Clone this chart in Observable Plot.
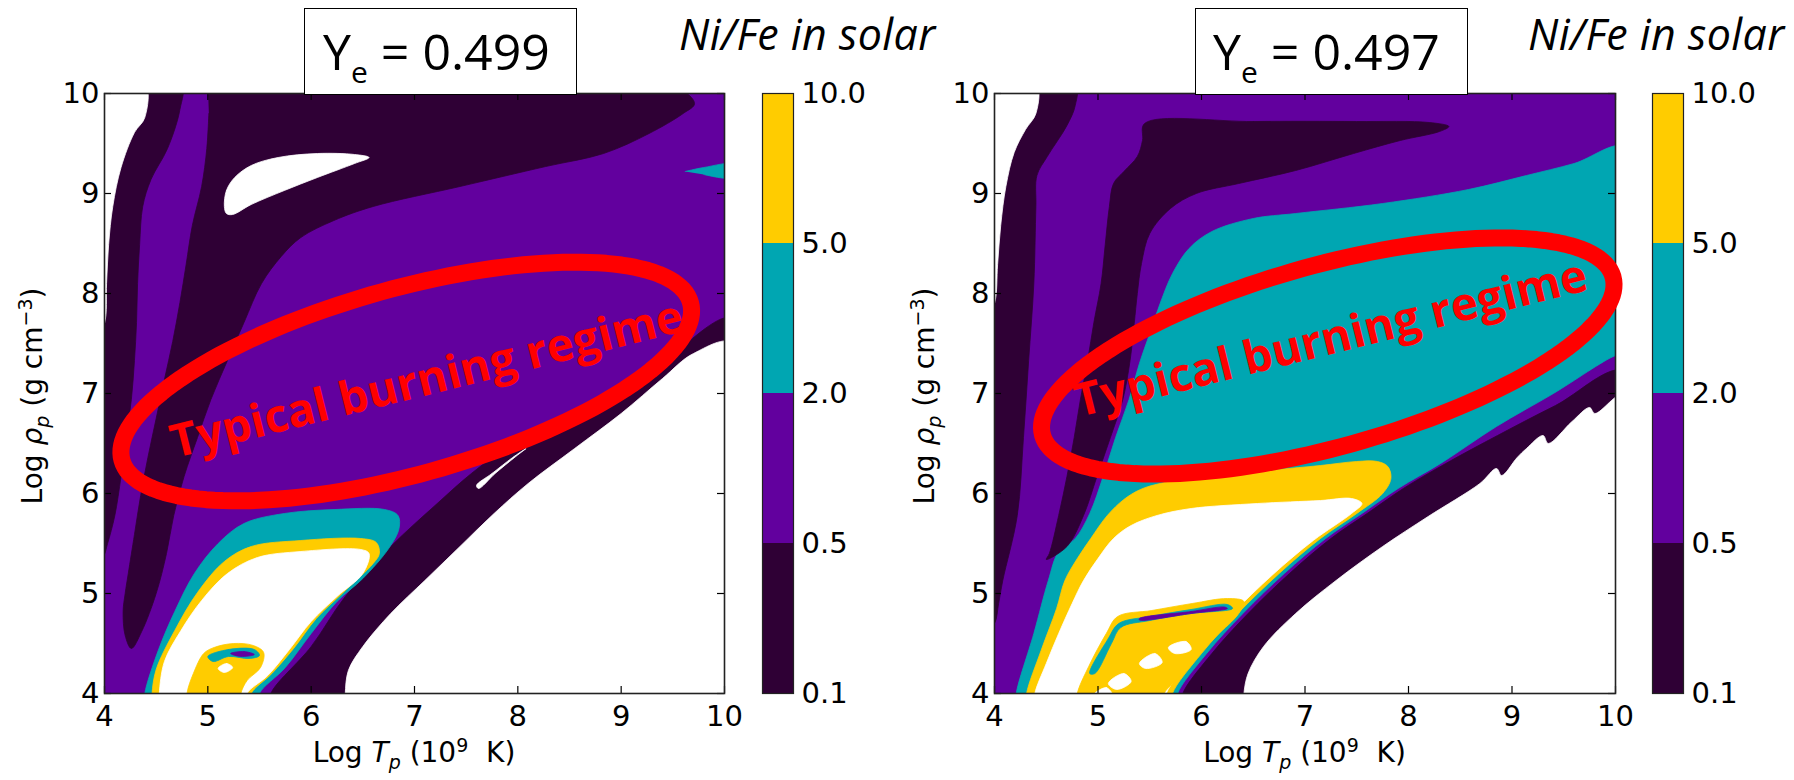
<!DOCTYPE html>
<html><head><meta charset="utf-8">
<script src="https://cdn.jsdelivr.net/npm/d3@7"></script>
<script src="https://cdn.jsdelivr.net/npm/@observablehq/plot@0.6"></script>
<style>
body{margin:0;background:#fff;}
#root{position:relative;width:1794px;height:780px;overflow:hidden;font-family:"DejaVu Sans";}
.abs{position:absolute;white-space:nowrap;line-height:1;}
.box{position:absolute;border:1.5px solid #000;background:#fff;box-sizing:border-box;z-index:5;}
.ye{font-family:"Open Sans";font-size:50px;z-index:6;color:#000;}
.ye sub{font-size:30px;vertical-align:-13px;line-height:0;}
.nife{font-family:"Open Sans";font-style:italic;font-size:43px;letter-spacing:0.4px;color:#000;}
.axl{font-family:"DejaVu Sans";font-size:28px;color:#000;}
.axl sub,.axl sup{font-size:19px;line-height:0;}
svg{overflow:visible;}
</style></head><body><div id="root"></div>
<script>
// ---------- axis / legend data ----------
const T_TICKS = [4, 5, 6, 7, 8, 9, 10];
const RHO_TICKS = [4, 5, 6, 7, 8, 9, 10];
const LEVELS = ["0.1", "0.5", "2.0", "5.0", "10.0"];
const BANDS = ["dark", "purple", "teal", "yellow"];
const TITLES = ["0.499", "0.497"];

// ---------- left panel (Ye = 0.499) regions, [log T, log rho] ----------
const L_DARK_MAIN = [[5.0,10.1],[9.45,10.1],[9.71,9.9],[9.6,9.8],[9.27,9.6],[8.83,9.4],[8.27,9.27],[7.44,9.07],[6.6,8.87],[6.22,8.73],[5.9,8.56],[5.71,8.37],[5.52,8.1],[5.35,7.71],[5.19,7.33],[5.03,6.94],[4.9,6.56],[4.77,6.17],[4.67,5.78],[4.6,5.4],[4.5,5.0],[4.36,4.62],[4.26,4.45],[4.2,4.58],[4.18,4.82],[4.2,5.0],[4.23,5.2],[4.29,5.59],[4.35,5.98],[4.42,6.36],[4.5,6.75],[4.58,7.14],[4.66,7.52],[4.73,7.91],[4.79,8.29],[4.85,8.68],[4.94,9.07],[4.99,9.45],[5.01,9.8]];
const L_DARK_LEFT = [[3.9,10.1],[4.74,10.1],[4.73,9.84],[4.61,9.45],[4.45,9.14],[4.37,8.87],[4.34,8.49],[4.32,8.1],[4.31,7.71],[4.29,7.33],[4.26,6.94],[4.21,6.56],[4.16,6.17],[4.1,5.78],[4.03,5.5],[3.98,5.35],[3.9,5.3]];
const L_WHITE_CORNER = [[3.9,10.1],[4.39,10.1],[4.39,9.76],[4.29,9.61],[4.16,9.26],[4.08,8.87],[4.04,8.49],[4.02,8.1],[4.0,7.7],[3.9,7.5]];
const L_CRESCENT = [[5.16,8.87],[5.18,9.03],[5.26,9.16],[5.42,9.28],[5.68,9.36],[6.06,9.4],[6.42,9.39],[6.56,9.36],[6.42,9.3],[6.06,9.16],[5.74,9.03],[5.42,8.89],[5.24,8.79],[5.18,8.8]];
const L_TEAL_SPOT = [[9.62,9.22],[9.8,9.26],[10.1,9.29],[10.1,9.16],[9.8,9.19]];
const L_DARK_BAND = [[5.61,3.9],[5.61,4.0],[6.0,4.47],[6.33,4.97],[6.77,5.47],[7.22,5.9],[7.55,6.2],[7.88,6.45],[8.27,6.68],[8.71,6.9],[9.1,7.1],[9.5,7.4],[10.1,7.75],[10.1,3.9]];
const L_WHITE_LOWER = [[6.33,3.9],[6.33,4.0],[6.36,4.23],[6.5,4.47],[6.77,4.8],[7.1,5.13],[7.44,5.47],[7.77,5.8],[8.1,6.1],[8.55,6.45],[9.0,6.8],[9.4,7.15],[9.7,7.4],[10.1,7.5],[10.1,3.9]];
const L_SLIVER = [[7.6,6.08],[7.75,6.2],[7.95,6.36],[8.08,6.45],[7.98,6.37],[7.78,6.2],[7.62,6.05]];
const L_ISL_TEAL = [[4.39,3.9],[4.39,4.0],[4.52,4.43],[4.68,4.82],[4.87,5.2],[5.1,5.5],[5.35,5.7],[5.74,5.8],[6.23,5.84],[6.71,5.84],[6.84,5.78],[6.85,5.65],[6.75,5.45],[6.5,5.15],[6.25,4.92],[6.0,4.6],[5.75,4.26],[5.5,4.0],[5.5,3.9]];
const L_ISL_YELLOW = [[4.46,3.9],[4.46,4.0],[4.5,4.24],[4.68,4.63],[4.9,5.01],[5.16,5.32],[5.42,5.47],[5.9,5.53],[6.48,5.55],[6.63,5.51],[6.66,5.4],[6.6,5.3],[6.3,5.0],[6.05,4.75],[5.83,4.45],[5.62,4.2],[5.42,4.0],[5.42,3.9]];
const L_ISL_WHITE = [[4.53,3.9],[4.53,4.0],[4.58,4.32],[4.74,4.63],[4.94,4.93],[5.19,5.2],[5.48,5.36],[5.9,5.42],[6.48,5.44],[6.56,5.4],[6.5,5.2],[6.25,4.97],[6.0,4.72],[5.79,4.44],[5.58,4.18],[5.38,4.0],[5.38,3.9]];
const L_NOISE_YELLOW = [[4.8,3.9],[4.8,4.01],[4.86,4.2],[4.96,4.4],[5.06,4.46],[5.25,4.5],[5.44,4.48],[5.54,4.41],[5.51,4.26],[5.38,4.13],[5.32,4.0],[5.32,3.9]];
const L_NOISE_TEAL = [[5.0,4.37],[5.2,4.44],[5.45,4.44],[5.5,4.38],[5.4,4.35],[5.2,4.37],[5.05,4.32]];
const L_NOISE_PURPLE = [[5.22,4.4],[5.35,4.42],[5.45,4.39],[5.32,4.37]];
const L_NOISE_HOLE = [[5.1,4.25],[5.18,4.3],[5.24,4.26],[5.16,4.21]];

// ---------- right panel (Ye = 0.497) regions ----------
const R_TEAL = [[4.21,3.9],[4.21,4.0],[4.38,4.6],[4.52,5.13],[4.62,5.42],[4.78,5.55],[4.92,5.8],[5.05,6.17],[5.17,6.56],[5.3,6.94],[5.4,7.3],[5.5,7.6],[5.6,7.9],[5.72,8.2],[5.88,8.45],[6.1,8.62],[6.5,8.75],[6.91,8.8],[7.75,8.9],[8.58,9.04],[9.14,9.18],[9.6,9.3],[10.1,9.46],[10.1,7.4],[10.0,7.38],[9.4,7.0],[8.85,6.67],[8.31,6.3],[7.9,6.05],[7.55,5.8],[7.2,5.55],[6.8,5.2],[6.4,4.8],[6.05,4.4],[5.77,4.0],[5.77,3.9]];
const R_DARK_MAIN = [[5.45,9.7],[6.5,9.72],[7.5,9.72],[8.2,9.71],[8.39,9.67],[8.3,9.62],[7.92,9.53],[7.47,9.4],[6.91,9.23],[6.36,9.1],[5.95,9.0],[5.7,8.85],[5.5,8.6],[5.42,8.3],[5.38,8.0],[5.35,7.7],[5.31,7.33],[5.24,6.94],[5.12,6.56],[4.99,6.17],[4.86,5.78],[4.7,5.47],[4.5,5.34],[4.53,5.4],[4.62,5.78],[4.7,6.17],[4.77,6.56],[4.83,6.94],[4.9,7.33],[4.96,7.71],[5.03,8.1],[5.07,8.49],[5.11,8.87],[5.15,9.1],[5.25,9.22],[5.38,9.37],[5.43,9.53]];
const R_DARK_LEFT = [[3.9,10.1],[4.78,10.1],[4.78,9.88],[4.7,9.68],[4.51,9.37],[4.41,9.18],[4.4,8.87],[4.38,8.1],[4.33,7.33],[4.28,6.56],[4.22,5.78],[4.08,5.13],[4.04,4.9],[4.0,4.7],[3.9,4.6]];
const R_WHITE_CORNER = [[3.9,10.1],[4.4,10.1],[4.4,9.8],[4.3,9.64],[4.19,9.41],[4.11,9.07],[4.06,8.68],[4.03,8.29],[4.0,7.9],[3.9,7.7]];
const R_DARK_BAND = [[5.82,3.9],[5.82,4.0],[6.1,4.4],[6.45,4.8],[6.85,5.2],[7.25,5.55],[7.6,5.8],[7.95,6.05],[8.36,6.3],[8.86,6.58],[9.42,6.88],[10.1,7.22],[10.1,3.9]];
const R_WHITE_LOWER = [[6.41,3.9],[6.41,4.0],[6.45,4.2],[6.6,4.47],[6.91,4.8],[7.3,5.13],[7.75,5.47],[8.19,5.77],[8.69,6.1],[8.85,6.25],[8.9,6.18],[9.05,6.36],[9.14,6.45],[9.3,6.58],[9.35,6.5],[9.58,6.72],[9.75,6.86],[9.8,6.8],[10.1,7.0],[10.1,3.9]];
const R_ISL_YELLOW = [[4.31,3.9],[4.31,4.0],[4.45,4.43],[4.6,4.85],[4.68,5.13],[4.8,5.35],[4.93,5.55],[5.09,5.78],[5.25,5.94],[5.41,6.04],[5.6,6.1],[5.9,6.15],[6.54,6.22],[7.15,6.28],[7.5,6.32],[7.7,6.32],[7.8,6.27],[7.83,6.15],[7.75,6.0],[7.5,5.8],[7.15,5.55],[6.75,5.2],[6.35,4.8],[6.0,4.4],[5.72,4.0],[5.72,3.9]];
const R_ISL_WHITE = [[4.39,3.9],[4.39,4.0],[4.5,4.3],[4.62,4.6],[4.75,4.9],[4.86,5.13],[5.0,5.35],[5.15,5.55],[5.32,5.68],[5.57,5.78],[5.9,5.85],[6.54,5.9],[7.15,5.93],[7.45,5.95],[7.55,5.9],[7.45,5.8],[7.08,5.53],[6.69,5.19],[6.29,4.79],[5.94,4.39],[5.66,4.0],[5.66,3.9]];
const R_NOISE_YELLOW = [[4.8,3.9],[4.8,4.0],[4.91,4.27],[5.08,4.6],[5.19,4.77],[5.52,4.83],[5.91,4.9],[6.25,4.95],[6.41,4.92],[6.36,4.8],[6.14,4.57],[5.91,4.33],[5.75,4.13],[5.64,4.0],[5.64,3.9]];
const R_NOISE_TEAL = [[4.92,4.2],[5.1,4.55],[5.2,4.7],[5.5,4.77],[5.9,4.84],[6.25,4.89],[6.3,4.85],[5.9,4.8],[5.5,4.73],[5.22,4.66],[5.13,4.5],[4.97,4.2]];
const R_NOISE_PURPLE = [[5.4,4.75],[5.9,4.82],[6.22,4.865],[6.25,4.85],[5.9,4.8],[5.4,4.735]];
const R_NOISE_HOLE_A = [[5.1,4.1],[5.25,4.2],[5.32,4.12],[5.18,4.04]];
const R_NOISE_HOLE_B = [[5.4,4.3],[5.55,4.4],[5.62,4.31],[5.46,4.25]];
const R_NOISE_HOLE_C = [[5.68,4.46],[5.85,4.52],[5.9,4.44],[5.74,4.4]];
const R_NOISE_HOLE_D = [[4.95,3.98],[5.08,4.06],[5.14,3.98]];

// ---------- styles ----------
const PALETTE = {dark: "#2f0035", purple: "#62009e", teal: "#00a6b2", yellow: "#ffcc00", white: "#ffffff"};

const LEFT_LAYERS = [
  ["dark", L_DARK_MAIN, false], ["dark", L_DARK_LEFT, false], ["white", L_WHITE_CORNER, false],
  ["white", L_CRESCENT, true], ["teal", L_TEAL_SPOT, false], ["dark", L_DARK_BAND, false],
  ["white", L_WHITE_LOWER, false], ["white", L_SLIVER, true], ["teal", L_ISL_TEAL, false],
  ["yellow", L_ISL_YELLOW, false], ["white", L_ISL_WHITE, false], ["yellow", L_NOISE_YELLOW, false],
  ["teal", L_NOISE_TEAL, true], ["purple", L_NOISE_PURPLE, true], ["white", L_NOISE_HOLE, true]
];
const RIGHT_LAYERS = [
  ["teal", R_TEAL, false], ["dark", R_DARK_MAIN, true], ["dark", R_DARK_LEFT, false],
  ["white", R_WHITE_CORNER, false], ["dark", R_DARK_BAND, false], ["white", R_WHITE_LOWER, false],
  ["yellow", R_ISL_YELLOW, false], ["white", R_ISL_WHITE, false], ["yellow", R_NOISE_YELLOW, false],
  ["teal", R_NOISE_TEAL, true], ["purple", R_NOISE_PURPLE, true],
  ["white", R_NOISE_HOLE_A, true], ["white", R_NOISE_HOLE_B, true], ["white", R_NOISE_HOLE_C, true], ["white", R_NOISE_HOLE_D, true]
];

const ANN_LEFT = {T: 6.92, rho: 7.12, a: 295, b: 93, angle: 15.5, tT: 7.12, tRho: 7.135, label: "Typical burning regime"};
const ANN_RIGHT = {T: 7.22, rho: 7.375, a: 296, b: 91, angle: 15.5, tT: 7.25, tRho: 7.545, label: "Typical burning regime"};

const FRAME_H = 600, M_TOP = 93, M_BOT = 87, M_LEFT = 104, M_RIGHT = 16;

function ellipsePoints(c, kx, ky) {
  const th = c.angle * Math.PI / 180, pts = [];
  for (let i = 0; i < 160; i++) {
    const t = 2 * Math.PI * i / 160;
    const ex = c.a * Math.cos(t), ey = c.b * Math.sin(t);
    const dx = ex * Math.cos(th) - ey * Math.sin(th);
    const dy = ex * Math.sin(th) + ey * Math.cos(th);
    pts.push([c.T + dx / kx, c.rho + dy / ky]);
  }
  return pts;
}

function panel(layers, ann, frameW) {
  const kx = frameW / 6, ky = FRAME_H / 6;
  const tx = 7 / kx, ty = 7 / ky;
  const marks = [Plot.frame({fill: PALETTE.purple, stroke: "none"})];
  for (const [band, pts, closed] of layers) {
    marks.push(Plot.line(pts, {x: d => d[0], y: d => d[1], fill: PALETTE[band], stroke: PALETTE[band],
      strokeWidth: 0.8, curve: closed ? "catmull-rom-closed" : "catmull-rom", clip: true}));
  }
  marks.push(
    Plot.ruleX(T_TICKS, {x: d => d, y1: () => 4, y2: () => 4 + ty, stroke: "#000", strokeWidth: 1.2}),
    Plot.ruleX(T_TICKS, {x: d => d, y1: () => 10 - ty, y2: () => 10, stroke: "#000", strokeWidth: 1.2}),
    Plot.ruleY(RHO_TICKS, {y: d => d, x1: () => 4, x2: () => 4 + tx, stroke: "#000", strokeWidth: 1.2}),
    Plot.ruleY(RHO_TICKS, {y: d => d, x1: () => 10 - tx, x2: () => 10, stroke: "#000", strokeWidth: 1.2}),
    Plot.frame({stroke: "#222", strokeWidth: 1.6}),
    Plot.line(ellipsePoints(ann, kx, ky), {x: d => d[0], y: d => d[1], stroke: "#ff0000", strokeWidth: 17, curve: "linear-closed"}),
    Plot.text([ann], {x: "tT", y: "tRho", text: "label", rotate: -14, fill: "#ff0000", fontSize: 46,
      fontWeight: "bold", fontFamily: "Open Sans"}),
    Plot.axisX(T_TICKS, {anchor: "bottom", tickSize: 0, tickPadding: 12, tickFormat: d => String(d), label: null}),
    Plot.axisY(RHO_TICKS, {anchor: "left", tickSize: 0, tickPadding: 5, tickFormat: d => String(d), label: null})
  );
  return Plot.plot({
    width: M_LEFT + frameW + M_RIGHT, height: M_TOP + FRAME_H + M_BOT,
    marginLeft: M_LEFT, marginRight: M_RIGHT, marginTop: M_TOP, marginBottom: M_BOT,
    x: {domain: [4, 10]}, y: {domain: [4, 10]},
    style: {fontFamily: "DejaVu Sans", fontSize: "29px", color: "#000", background: "transparent", overflow: "visible"},
    marks
  });
}

function colorbar() {
  const idx = BANDS.map((b, i) => i);
  return Plot.plot({
    width: 31 + 80, height: M_TOP + FRAME_H + M_BOT,
    marginLeft: 0, marginRight: 80, marginTop: M_TOP, marginBottom: M_BOT,
    x: {domain: [0, 1], axis: null}, y: {domain: [0, 4]},
    color: {type: "identity"},
    style: {fontFamily: "DejaVu Sans", fontSize: "29px", color: "#000", background: "transparent", overflow: "visible"},
    marks: [
      Plot.rect(idx, {x1: () => 0, x2: () => 1, y1: i => i, y2: i => i + 1, fill: i => PALETTE[BANDS[i]]}),
      Plot.frame({stroke: "#222", strokeWidth: 1.2}),
      Plot.axisY(LEVELS.map((l, i) => i), {anchor: "right", tickSize: 0, tickPadding: 8, tickFormat: i => LEVELS[i], label: null})
    ]
  });
}

const root = document.getElementById("root");
function place(el, left, top) { el.style.position = "absolute"; el.style.left = left + "px"; el.style.top = top + "px"; root.appendChild(el); return el; }
function html(cls, left, top, content) { const d = document.createElement("div"); d.className = "abs " + cls; d.innerHTML = content; return place(d, left, top); }

place(panel(LEFT_LAYERS, ANN_LEFT, 620), 0, 0);
place(panel(RIGHT_LAYERS, ANN_RIGHT, 621), 890, 0);
place(colorbar(), 762, 0);
place(colorbar(), 1652, 0);

// title boxes
[[304, 323, TITLES[0]], [1195, 1213, TITLES[1]]].forEach(([bx, tx, val]) => {
  const b = document.createElement("div"); b.className = "box"; b.style.width = "273px"; b.style.height = "87px"; place(b, bx, 8);
  html("ye", tx, 25.6, "Y<sub>e</sub> = " + val);
});
html("nife", 679, 12, "Ni/Fe in solar");
html("nife", 1528, 12, "Ni/Fe in solar");

// axis titles
const xl1 = html("axl", 414, 739, "Log <i>T</i><sub><i>p</i></sub> (10<sup>9</sup>&nbsp; K)"); xl1.style.transform = "translateX(-50%)";
const xl2 = html("axl", 1304.5, 739, "Log <i>T</i><sub><i>p</i></sub> (10<sup>9</sup>&nbsp; K)"); xl2.style.transform = "translateX(-50%)";
const yl1 = html("axl", 33, 396, "Log <i>ρ</i><sub><i>p</i></sub> (g cm<sup>−3</sup>)"); yl1.style.transform = "translate(-50%,-50%) rotate(-90deg)";
const yl2 = html("axl", 925, 396, "Log <i>ρ</i><sub><i>p</i></sub> (g cm<sup>−3</sup>)"); yl2.style.transform = "translate(-50%,-50%) rotate(-90deg)";
</script></body></html>
